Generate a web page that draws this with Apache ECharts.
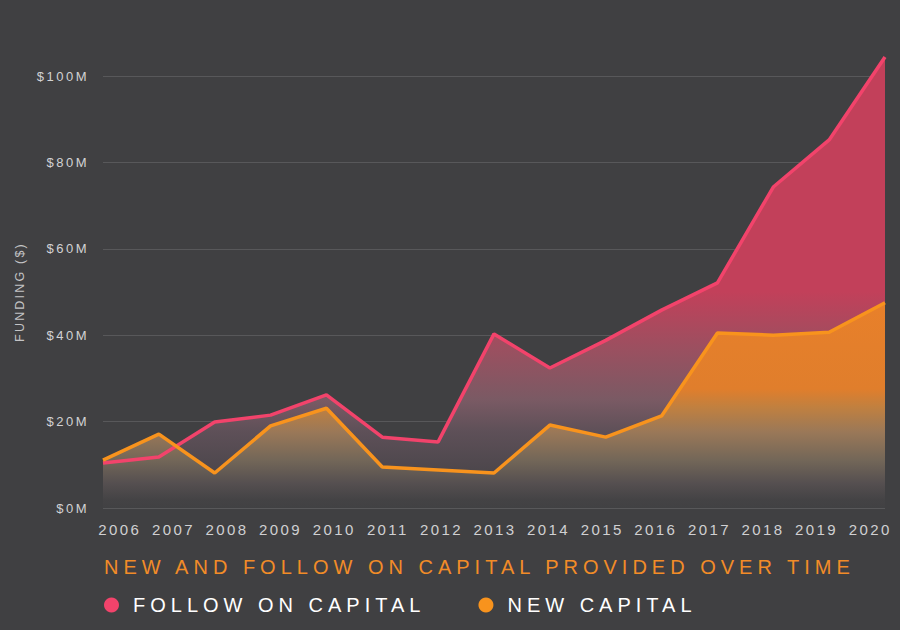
<!DOCTYPE html>
<html>
<head>
<meta charset="utf-8">
<style>
html,body{margin:0;padding:0;background:#404042;}
#chart{width:900px;height:630px;}
#chart svg text{letter-spacing:0.2em;}
#chart svg text[style*="20px"]{letter-spacing:5px;}
#chart svg text[style*="13px"]{letter-spacing:2.5px;}
#chart svg text[style*="15px"]{letter-spacing:2.4px;}
#chart svg text[style*="12.5px"]{letter-spacing:2.2px;}
</style>
<script src="https://cdn.jsdelivr.net/npm/echarts@6/dist/echarts.min.js"></script>
</head>
<body>
<div id="chart"></div>
<script>
const years = ['2006','2007','2008','2009','2010','2011','2012','2013','2014','2015','2016','2017','2018','2019','2020'];
const followOnCapital = [10.4, 11.8, 19.9, 21.5, 26.2, 16.4, 15.3, 40.3, 32.4, 38.8, 45.8, 52.1, 74.3, 85.2, 104.4];
const newCapital = [11.1, 17.1, 8.1, 19.0, 23.1, 9.5, 8.8, 8.1, 19.2, 16.4, 21.3, 40.5, 40.0, 40.7, 47.5];
const yTickValues = [0, 20, 40, 60, 80, 100];

const titleText = 'NEW AND FOLLOW ON CAPITAL PROVIDED OVER TIME';
const followName = 'FOLLOW ON CAPITAL';
const newName = 'NEW CAPITAL';

const pinkLine = '#f2436b';
const orangeLine = '#f8931d';

const pinkGradient = {
  type: 'linear', x: 0, y: 0, x2: 0, y2: 1,
  colorStops: [
    { offset: 0, color: '#c2405a' },
    { offset: 0.52, color: '#c2405a' },
    { offset: 0.65, color: '#9a5060' },
    { offset: 0.76, color: '#7a5a64' },
    { offset: 0.83, color: '#5e5058' },
    { offset: 0.96, color: '#444246' },
    { offset: 1, color: '#414143' }
  ]
};
const orangeGradient = {
  type: 'linear', x: 0, y: 0, x2: 0, y2: 1,
  colorStops: [
    { offset: 0, color: '#e8802a' },
    { offset: 0.42, color: '#e07e2c' },
    { offset: 0.51, color: '#c08040' },
    { offset: 0.63, color: '#9a7858' },
    { offset: 0.77, color: '#726658' },
    { offset: 0.88, color: '#554f50' },
    { offset: 0.96, color: '#444345' },
    { offset: 1, color: '#414143' }
  ]
};

const chart = echarts.init(document.getElementById('chart'), null, { renderer: 'svg' });
chart.setOption({
  backgroundColor: '#404042',
  animation: false,
  title: {
    text: titleText,
    left: 99,
    top: 552,
    textStyle: { color: '#f28c28', fontSize: 20, fontWeight: 'normal', fontFamily: 'Liberation Sans' }
  },
  legend: {
    data: [followName, newName],
    icon: 'circle',
    itemWidth: 33,
    itemHeight: 15,
    itemGap: 138,
    left: 99,
    top: 590,
    selectedMode: false,
    textStyle: { color: '#ffffff', fontSize: 20, fontFamily: 'Liberation Sans' }
  },
  grid: [
    { left: 103, right: 15, top: 76, bottom: 122 },
    { left: 93, right: 3, top: 76, bottom: 122 }
  ],
  xAxis: [
    {
      gridIndex: 0, type: 'category', data: years, boundaryGap: false,
      axisLine: { show: false }, axisTick: { show: false }, axisLabel: { show: false }, splitLine: { show: false }
    },
    {
      gridIndex: 1, type: 'category', data: years, boundaryGap: true,
      axisLine: { show: false }, axisTick: { show: false }, splitLine: { show: false },
      axisLabel: { margin: 14, color: '#d0d0d2', fontSize: 15, fontFamily: 'Liberation Sans Narrow, Liberation Sans', interval: 0 }
    }
  ],
  yAxis: [
    {
      gridIndex: 0, type: 'value', min: yTickValues[0], max: yTickValues[yTickValues.length - 1], interval: 20,
      axisLine: { show: false }, axisTick: { show: false },
      splitLine: { lineStyle: { color: '#58585a', width: 1 } },
      axisLabel: { margin: 14, color: '#d2d2d4', fontSize: 13, fontFamily: 'Liberation Sans', formatter: v => '$' + v + 'M' },
      name: 'FUNDING ($)', nameLocation: 'middle', nameGap: 77, nameRotate: 90,
      nameTextStyle: { color: '#c4c4c6', fontSize: 12.5, fontFamily: 'Liberation Sans' }
    },
    { gridIndex: 1, type: 'value', min: 0, max: 100, show: false }
  ],
  series: [
    {
      name: followName, type: 'line', data: followOnCapital, xAxisIndex: 0, yAxisIndex: 0,
      symbol: 'none', clip: false, z: 3, color: pinkLine,
      lineStyle: { color: pinkLine, width: 3.5 }
    },
    {
      name: newName, type: 'line', data: newCapital, xAxisIndex: 0, yAxisIndex: 0,
      symbol: 'none', clip: false, z: 3, color: orangeLine,
      lineStyle: { color: orangeLine, width: 3.5 }
    },
    {
      name: followName, type: 'line', data: followOnCapital, xAxisIndex: 0, yAxisIndex: 0,
      symbol: 'none', clip: false, z: 2, color: pinkLine, silent: true,
      lineStyle: { opacity: 0 },
      areaStyle: { color: pinkGradient, opacity: 1 }
    },
    {
      name: newName, type: 'line', data: newCapital, xAxisIndex: 0, yAxisIndex: 0,
      symbol: 'none', clip: false, z: 2, color: orangeLine, silent: true,
      lineStyle: { opacity: 0 },
      areaStyle: { color: orangeGradient, opacity: 1 }
    }
  ]
});
</script>
</body>
</html>
